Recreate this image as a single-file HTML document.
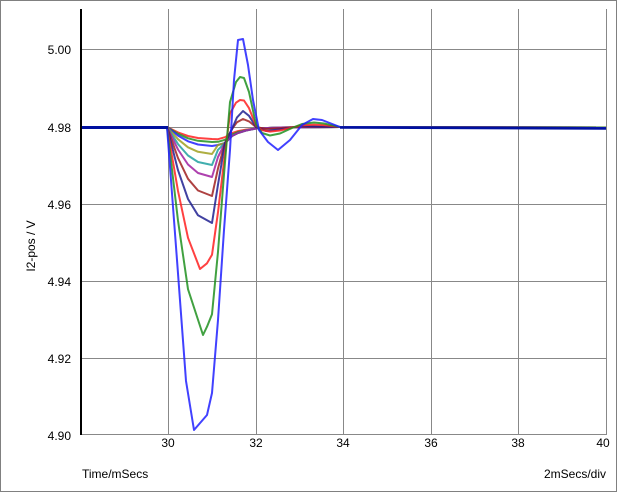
<!DOCTYPE html>
<html><head><meta charset="utf-8"><style>
html,body{margin:0;padding:0;background:#fff;}
svg{display:block;font-family:"Liberation Sans",sans-serif;font-size:12px;}
</style></head><body>
<svg id="s" width="618" height="493" xmlns="http://www.w3.org/2000/svg">
<rect x="0.5" y="0.5" width="616" height="491" fill="#fff" stroke="#808080"/>
<g stroke="#888" stroke-width="1">
<line x1="168.5" y1="9" x2="168.5" y2="434"/>
<line x1="256.5" y1="9" x2="256.5" y2="434"/>
<line x1="343.5" y1="9" x2="343.5" y2="434"/>
<line x1="431.5" y1="9" x2="431.5" y2="434"/>
<line x1="518.5" y1="9" x2="518.5" y2="434"/>
<line x1="606.5" y1="9" x2="606.5" y2="434"/>
<line x1="81" y1="49.5" x2="607" y2="49.5"/>
<line x1="81" y1="127.5" x2="607" y2="127.5"/>
<line x1="81" y1="204.5" x2="607" y2="204.5"/>
<line x1="81" y1="281.5" x2="607" y2="281.5"/>
<line x1="81" y1="358.5" x2="607" y2="358.5"/>
<line x1="81" y1="434.5" x2="607" y2="434.5"/>
</g>
<line x1="81" y1="9" x2="81" y2="435" stroke="#000" stroke-width="2"/>
<g text-anchor="end" fill="#000">
<text x="71" y="54">5.00</text>
<text x="71" y="132">4.98</text>
<text x="71" y="209">4.96</text>
<text x="71" y="286">4.94</text>
<text x="71" y="363">4.92</text>
<text x="71" y="440">4.90</text>
</g>
<g text-anchor="middle" fill="#000">
<text x="168" y="447">30</text>
<text x="256" y="447">32</text>
<text x="343" y="447">34</text>
<text x="431" y="447">36</text>
<text x="518" y="447">38</text>
<text x="603" y="447">40</text>
</g>
<text x="82" y="478">Time/mSecs</text>
<text x="606" y="478" text-anchor="end">2mSecs/div</text>
<text transform="translate(35,246) rotate(-90)" text-anchor="middle">I2-pos / V</text>
<g id="c" fill="none" stroke-width="2" stroke-linejoin="round" stroke-opacity="0.85"></g>
<line x1="82" y1="127.5" x2="168" y2="127.5" stroke="#0010a0" stroke-width="3"/>
<polyline points="340,127.5 606,128.5" stroke="#0010a0" stroke-width="2.5" fill="none"/>
</svg>
<script>
var S=[["#ff2020",12,0],["#209020",15,0],["#2020ff",19,0],["#a0a020",27,0],["#20a0a0",38,0],["#a020a0",50,1],["#a02020",69,8],["#202090",96,16],["#ff2020",142,27],["#209020",208,50],["#2020ff",303,88]];
var g=document.getElementById('c'),h='';
S.forEach(function(s){var a=s[1],p=s[2],b=127,pts;
 var big=a>100;
 if(!big){
  var c=Math.min(16,a*0.85);
  pts=[[167,b],[178,b+a*0.45],[188,b+a*0.75],[198,b+a*0.92],[212,b+a],[218,b+Math.max(a*0.6,c+2)],[225,b+c]];
  if(p>1){pts.push([232,b+2],[237,b-p*0.6],[243,b-p],[249,b-p*0.7],[256,b],[266,b+p*0.25],[280,b+p*0.15],[300,b-p*0.05],[340,b]);}
  else{pts.push([232,b+Math.min(9,c*0.6)],[238,b+Math.min(6,c*0.4)],[246,b+Math.min(3.5,c*0.25)],[256,b+1.5],[280,b+0.5],[340,b]);}
  pts.push([606,b+0.5]);
 } else {
 var mx=a>180?203:200;
 pts=[[167,b],[178,b+a*0.45],[188,b+a*0.78],[mx,b+a],[207,b+a*0.96],[212,b+a*0.9],
 [218,b+a*0.6],[224,b+a*0.3-p*0.3],[230,b-p*0.5],[236,b-p*0.9],[240,b-p],[244,b-p*0.98],[249,b-p*0.7],[256,b-p*0.05],[262,b+p*0.12],[270,b+p*0.17],[280,b+p*0.13],[292,b+p*0.02],[302,b-p*0.06],[314,b-p*0.09],[324,b-p*0.07],[340,b],[606,b+0.5]];
 }
 if(a>250){pts=[[167,127],[177,260],[186,381],[194,430],[207,415],[212,393],[218,320],[224,230],[230,150],[234,80],[238,40],[243,39],[248,65],[253,100],[259,130],[268,142],[278,150],[290,140],[302,125],[313,119],[322,120],[340,127],[606,128]];}
 h+='<polyline stroke="'+s[0]+'" points="'+pts.map(function(q){return q[0]+','+q[1].toFixed(1)}).join(' ')+'"/>';});
g.innerHTML=h;
</script>
</body></html>
